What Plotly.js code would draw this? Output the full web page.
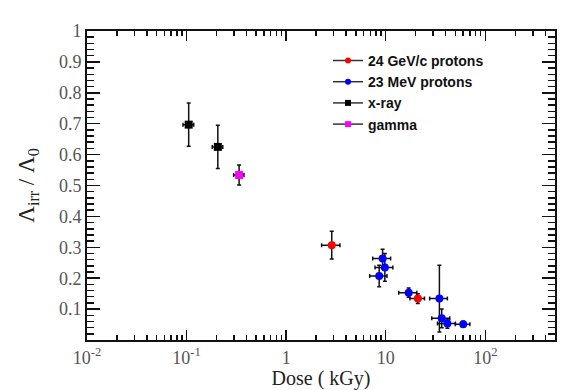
<!DOCTYPE html>
<html>
<head>
<meta charset="utf-8">
<script src="https://cdn.plot.ly/plotly-3.0.1.min.js"></script>
<style>
  html, body { margin: 0; padding: 0; background: #fff; }
  #plot { width: 582px; height: 390px; }
</style>
</head>
<body>
<div id="plot"></div>
<script>
// dose in kGy, normalised lambda
const xrayDose = [0.105, 0.206];
const xrayVal = [0.697, 0.625];
const xrayErr = [0.070, 0.070];
const xrayDoseErr = [0.013, 0.025];

const gammaDose = [0.337];
const gammaVal = [0.534];
const gammaErr = [0.032];
const gammaDoseErr = [0.04];

const gevDose = [2.87, 21];
const gevVal = [0.307, 0.134];
const gevErr = [0.045, 0.016];
const gevDoseErr = [0.6, 3.5];

const mevDose = [9.3, 9.8, 8.6, 17, 34.6, 36.5, 41.6, 60];
const mevVal = [0.264, 0.235, 0.207, 0.153, 0.134, 0.070, 0.053, 0.051];
const mevErr = [0.03, 0.045, 0.035, 0.015, 0.108, 0.03, 0.015, 0.01];
const mevDoseErr = [1.9, 2.0, 1.7, 3.5, 7, 7.5, 8.5, 10];

const xTickVals = [0.01, 0.1, 1, 10, 100];
const xTickText = ['10<sup>-2</sup>', '10<sup>-1</sup>', '1', '10', '10<sup>2</sup>'];
const yTickVals = [0.1, 0.2, 0.3, 0.4, 0.5, 0.6, 0.7, 0.8, 0.9, 1];
const yTickText = ['0.1', '0.2', '0.3', '0.4', '0.5', '0.6', '0.7', '0.8', '0.9', '1'];

function dataTrace(x, y, ey, ex, color, symbol) {
    return {
        x: x, y: y,
        mode: 'markers',
        type: 'scatter',
        showlegend: false,
        marker: {color: color, symbol: symbol, size: 8},
        error_y: {type: 'data', array: ey, color: '#111', thickness: 1.5, width: 2},
        error_x: {type: 'data', array: ex, color: '#111', thickness: 1.5, width: 2}
    };
}

function legendTrace(name, color, symbol) {
    return {
        x: [null], y: [null],
        mode: 'lines+markers',
        type: 'scatter',
        name: name,
        line: {color: '#333', width: 1.5},
        marker: {color: color, symbol: symbol, size: 6}
    };
}

const data = [
    dataTrace(xrayDose, xrayVal, xrayErr, xrayDoseErr, '#000', 'square'),
    dataTrace(gammaDose, gammaVal, gammaErr, gammaDoseErr, '#ff00ff', 'square'),
    dataTrace(gevDose, gevVal, gevErr, gevDoseErr, '#ff0000', 'circle'),
    dataTrace(mevDose, mevVal, mevErr, mevDoseErr, '#0000ff', 'circle'),
    legendTrace('24 GeV/c protons', '#ff0000', 'circle'),
    legendTrace('23 MeV protons', '#0000ff', 'circle'),
    legendTrace('x-ray', '#000', 'square'),
    legendTrace('gamma', '#ff00ff', 'square')
];

const serif = 'Liberation Serif, Times New Roman, serif';
const tickFont = {family: serif, size: 18, color: '#555'};

const layout = {
    width: 582, height: 390,
    margin: {l: 87, r: 27, t: 31, b: 50},
    paper_bgcolor: '#fff',
    plot_bgcolor: '#fff',
    showlegend: true,
    legend: {
        x: 0.515, y: 0.955, xanchor: 'left', yanchor: 'top',
        font: {family: 'Liberation Sans, Arial, sans-serif', size: 14, color: '#111', weight: 'bold'},
        bgcolor: 'rgba(0,0,0,0)', tracegroupgap: 0
    },
    xaxis: {
        type: 'log',
        range: [-2, 2.7],
        tickvals: xTickVals, ticktext: xTickText,
        ticks: 'inside', ticklen: 10, tickwidth: 1.5, tickcolor: '#111',
        minor: {ticks: 'inside', ticklen: 5, tickwidth: 1.5, tickcolor: '#111', dtick: 'D1'},
        showline: true, linecolor: '#111', linewidth: 2, mirror: 'ticks',
        showgrid: false, zeroline: false,
        tickfont: tickFont,
        title: {text: 'Dose ( kGy)', font: {family: serif, size: 20, color: '#222'}, standoff: 2}
    },
    yaxis: {
        range: [0, 1],
        tickvals: yTickVals, ticktext: yTickText,
        ticks: 'inside', ticklen: 13, tickwidth: 1.5, tickcolor: '#111',
        minor: {ticks: 'inside', ticklen: 7, tickwidth: 1.5, tickcolor: '#111', dtick: 0.02},
        showline: true, linecolor: '#111', linewidth: 2, mirror: 'ticks',
        showgrid: false, zeroline: false,
        tickfont: tickFont,
        title: {text: 'Λ<sub>irr</sub> / Λ<sub>0</sub>', font: {family: serif, size: 23, color: '#222'}, standoff: 18}
    }
};

Plotly.newPlot('plot', data, layout, {displayModeBar: false, staticPlot: true});
</script>
</body>
</html>
